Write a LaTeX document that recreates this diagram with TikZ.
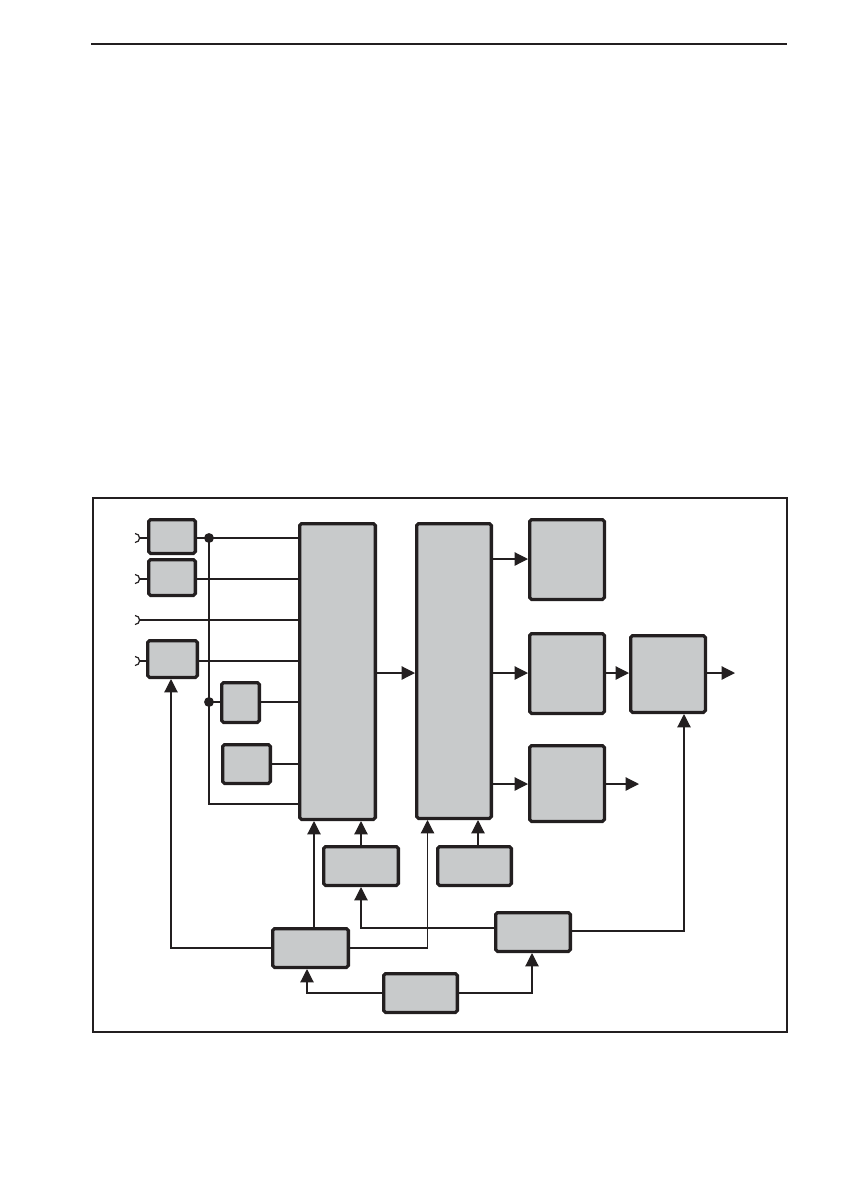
\documentclass[tikz,border=0pt]{standalone}
\usetikzlibrary{arrows.meta,fit}
\definecolor{boxfill}{RGB}{200,202,203}
\definecolor{ink}{RGB}{35,31,32}
\begin{document}
\begin{tikzpicture}[x=0.7067pt,y=-0.7067pt,
  blk/.style={draw=ink,fill=boxfill,line width=2.3pt,rounded corners=1.3pt,inner sep=-1.15pt,outer sep=1.15pt},
  wire/.style={draw=ink,line width=0.85pt},
  arr/.style={wire,-{Triangle[length=9.5pt,width=9.5pt]},shorten >=0pt},
  jdot/.style={circle,fill=ink,inner sep=0pt,minimum size=7pt}]
\useasboundingbox (0,0) rectangle (842,1190);
% page rule and frame
\draw[ink,line width=0.95pt] (91,44) -- (787,44);
\draw[ink,line width=0.8pt] (93,498) rectangle (787,1032);
% blocks
\node[blk,fit={(147,518)(197,555)}] (A1) {};
\node[blk,fit={(147,558)(197,597)}] (A2) {};
\node[blk,fit={(146,639)(199,679)}] (A3) {};
\node[blk,fit={(220,681)(261,724)}] (B1) {};
\node[blk,fit={(221,743)(272,785)}] (B2) {};
\node[blk,fit={(298,522)(377,821)}] (C) {};
\node[blk,fit={(415,522)(493,820)}] (D) {};
\node[blk,fit={(528,518)(606,601)}] (E1) {};
\node[blk,fit={(528,632)(606,715)}] (E2) {};
\node[blk,fit={(528,744)(606,823)}] (E3) {};
\node[blk,fit={(629,634)(707,714)}] (F) {};
\node[blk,fit={(322,845)(400,887)}] (G1) {};
\node[blk,fit={(436,845)(513,887)}] (G2) {};
\node[blk,fit={(271,927)(350,969)}] (H) {};
\node[blk,fit={(494,911)(572,953)}] (I) {};
\node[blk,fit={(382,972)(459,1014)}] (J) {};
% inputs
\foreach \yy in {538,579,620,661}
  \draw[wire] (135,{\yy-4.5}) .. controls (141,{\yy-4.5}) and (141,{\yy+4.5}) .. (135,{\yy+4.5});
\coordinate (i1) at (139.5,538);
\coordinate (i2) at (139.5,579);
\coordinate (i3) at (139.5,620);
\coordinate (i4) at (139.5,661);
\draw[wire] (i1) -- (A1.west |- i1);
\draw[wire] (A1.east |- i1) -- (C.west |- i1);
\draw[wire] (i2) -- (A2.west |- i2);
\draw[wire] (A2.east |- i2) -- (C.west |- i2);
\draw[wire] (i3) -- (C.west |- i3);
\draw[wire] (i4) -- (A3.west |- i4);
\draw[wire] (A3.east |- i4) -- (C.west |- i4);
\node[jdot] (d1) at (209,538) {};
\node[jdot] (d2) at (209,702) {};
\coordinate (bus) at (209,804);
\draw[wire] (d1.center) -- (bus) -- (C.west |- bus);
\draw[wire] (d2.center) -- (B1.west |- d2);
\draw[wire] (B1.east |- d2) -- (C.west |- d2);
\draw[wire] (B2.east) -- (C.west |- B2.east);
% right part
\coordinate (r0) at (0,559);
\coordinate (r1) at (0,673);
\coordinate (r2) at (0,784);
\draw[arr] (C.east |- r1) -- (D.west |- r1);
\draw[arr] (D.east |- r0) -- (E1.west |- r0);
\draw[arr] (D.east |- r1) -- (E2.west |- r1);
\draw[arr] (D.east |- r2) -- (E3.west |- r2);
\draw[arr] (E2.east |- r1) -- (F.west |- r1);
\coordinate (o1) at (735,673);
\coordinate (o2) at (639,784);
\draw[arr] (F.east |- o1) -- (o1);
\draw[arr] (E3.east |- o2) -- (o2);
% bottom part
\coordinate (x1) at (314,0);
\coordinate (x2) at (361,0);
\coordinate (x3) at (427.5,0);
\coordinate (x4) at (478,0);
\coordinate (x5) at (171,0);
\coordinate (x6) at (684,0);
\coordinate (x7) at (307,0);
\coordinate (x8) at (532,0);
\coordinate (hy) at (0,948);
\coordinate (iy1) at (0,928);
\coordinate (iy2) at (0,931);
\draw[arr] (H.north -| x1) -- (C.south -| x1);
\draw[arr] (G1.north -| x2) -- (C.south -| x2);
\draw[arr] (G2.north -| x4) -- (D.south -| x4);
\draw[arr] (H.west |- hy) -| (A3.south -| x5);
\draw[arr] (H.east |- hy) -| (D.south -| x3);
\draw[arr] (I.west |- iy1) -| (G1.south -| x2);
\draw[arr] (I.east |- iy2) -| (F.south -| x6);
\draw[arr] (J.west) -| (H.south -| x7);
\draw[arr] (J.east) -| (I.south -| x8);
\end{tikzpicture}
\end{document}
